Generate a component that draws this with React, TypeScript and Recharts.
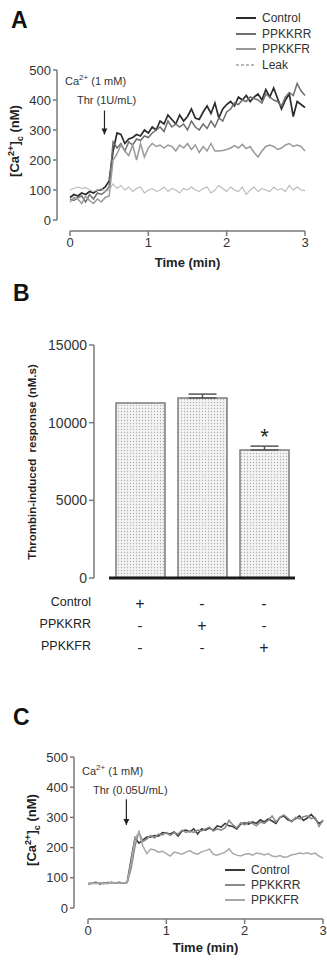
import {
  LineChart,
  Line,
  XAxis,
  YAxis,
  BarChart,
  Bar,
  ErrorBar,
  LabelList,
  Legend,
  ReferenceLine,
  ReferenceDot,
} from 'recharts'

const FONT = '"Liberation Sans", Arial, Helvetica, sans-serif'

// time points (min), shared by panels A and C
const TIME = [
  0, 0.05, 0.1, 0.15, 0.2, 0.25, 0.3, 0.35, 0.4, 0.45, 0.5,
  0.55, 0.6, 0.65, 0.7, 0.75, 0.8, 0.85, 0.9, 0.95, 1.0,
  1.05, 1.1, 1.15, 1.2, 1.25, 1.3, 1.35, 1.4, 1.45, 1.5,
  1.55, 1.6, 1.65, 1.7, 1.75, 1.8, 1.85, 1.9, 1.95, 2.0,
  2.05, 2.1, 2.15, 2.2, 2.25, 2.3, 2.35, 2.4, 2.45, 2.5,
  2.55, 2.6, 2.65, 2.7, 2.75, 2.8, 2.85, 2.9, 2.95, 3.0,
]

// panel A — Thr 1 U/mL
const A_CONTROL = [
  75, 85, 80, 90, 85, 95, 90, 100, 100, 110, 130,
  230, 290, 285, 255, 270, 275, 285, 280, 300, 290,
  310, 300, 330, 320, 350, 335, 320, 350, 330, 345,
  370, 340, 335, 360, 380, 355, 390, 340, 370, 385,
  395, 380, 410, 400, 415, 395, 410, 420, 400, 435,
  410, 440, 405, 370, 400, 420, 345, 395, 385, 375,
]
const A_PPKKRR = [
  70, 65, 75, 80, 60, 85, 70, 90, 85, 95, 110,
  260, 240, 255, 230, 260, 250, 270, 265, 280, 275,
  290, 300, 310, 295, 330, 310, 320, 310, 320, 300,
  330, 310, 300, 320, 305, 330, 310, 340, 330, 360,
  370, 390, 385, 400, 395, 410, 405, 400, 390, 420,
  410, 400, 395, 380, 410, 425, 415, 455, 430, 415,
]
const A_PPKKFR = [
  60, 75, 70, 55, 80, 65, 55, 70, 60, 75, 80,
  200, 220, 250, 230, 215, 250, 200, 255, 210, 240,
  255, 245, 250, 240, 250, 245, 230, 250, 240, 255,
  235, 250, 225, 245, 230, 255, 230, 230, 232, 235,
  240, 248, 240, 252, 238, 245, 225, 210, 230, 245,
  250, 245, 235, 240, 250, 255, 245, 250, 245, 230,
]
const A_LEAK = [
  100, 105, 110, 105, 108, 100, 95, 100, 105, 95, 100,
  120, 105, 115, 100, 110, 95, 105, 110, 90, 100,
  105, 95, 100, 110, 95, 105, 100, 90, 105, 100,
  110, 100, 95, 105, 110, 90, 100, 115, 105, 95,
  110, 100, 95, 110, 85, 100, 110, 95, 105, 100,
  95, 110, 100, 105, 95, 115, 100, 110, 100, 98,
]

// panel C — Thr 0.05 U/mL
const C_CONTROL = [
  80, 82, 85, 80, 83, 82, 85, 83, 84, 83, 85,
  160, 232, 215, 225, 235, 235, 240, 238, 250, 248,
  245, 252, 238, 255, 258, 252, 262, 245, 262, 258,
  265, 258, 272, 268, 280, 272, 270, 262, 278, 282,
  278, 285, 280, 292, 285, 295, 288, 280, 300, 305,
  292, 288, 296, 305, 290, 298, 310, 295, 280, 288,
]
const C_PPKKRR = [
  82, 80, 84, 82, 80, 85, 82, 84, 85, 82, 84,
  130, 205, 252, 220, 228, 240, 232, 245, 242, 250,
  240, 250, 245, 258, 250, 255, 250, 258, 255, 262,
  268, 255, 262, 258, 265, 290, 275, 265, 282, 275,
  285, 280, 272, 285, 280, 290, 305, 285, 300, 308,
  298, 285, 300, 295, 302, 305, 296, 300, 270, 292,
]
const C_PPKKFR = [
  80, 83, 80, 84, 82, 80, 84, 83, 82, 84, 84,
  150, 230, 250, 205, 180, 195, 192, 185, 188, 180,
  172, 185, 182, 178, 185, 190, 182, 178, 186, 190,
  195, 178, 175, 180, 185, 196, 180, 175, 172, 178,
  180, 175, 182, 180, 176, 180, 172, 170, 174, 168,
  170, 176, 178, 182, 180, 183, 178, 182, 172, 165,
]

const CA_TICKS = [0, 100, 200, 300, 400, 500]
const TIME_TICKS = [0, 1, 2, 3]

// panel B
const B_CATS = ['Control', 'PPKKRR', 'PPKKFR']
const B_MEAN = [11270, 11590, 8240]
const B_SEM = [0, 250, 250]
const B_MARK = ['', '', '*']
const B_TICKS = [0, 5000, 10000, 15000]
const B_ROW_LABELS = ['Control', 'PPKKRR', 'PPKKFR']
const B_SIGNS_CONTROL = ['+', '-', '-']
const B_SIGNS_PPKKRR = ['-', '+', '-']
const B_SIGNS_PPKKFR = ['-', '-', '+']

const dataA = TIME.map((t, i) => ({
  t,
  control: A_CONTROL[i],
  ppkkrr: A_PPKKRR[i],
  ppkkfr: A_PPKKFR[i],
  leak: A_LEAK[i],
}))
const dataC = TIME.map((t, i) => ({
  t,
  control: C_CONTROL[i],
  ppkkrr: C_PPKKRR[i],
  ppkkfr: C_PPKKFR[i],
}))
const dataB = B_CATS.map((name, i) => ({
  name,
  mean: B_MEAN[i],
  sem: B_SEM[i] ? [0, B_SEM[i]] : null,
  mark: B_MARK[i],
}))
const SIGN_ROWS = [B_SIGNS_CONTROL, B_SIGNS_PPKKRR, B_SIGNS_PPKKFR]

const SERIES_A = [
  { key: 'control', name: 'Control', color: '#2b2b2b', width: 1.7, dash: undefined },
  { key: 'ppkkrr', name: 'PPKKRR', color: '#6e6e6e', width: 1.5, dash: undefined },
  { key: 'ppkkfr', name: 'PPKKFR', color: '#9a9a9a', width: 1.5, dash: undefined },
  { key: 'leak', name: 'Leak', color: '#b8b8b8', width: 1.1, dash: '3 2' },
]
const SERIES_C = [
  { key: 'control', name: 'Control', color: '#3a3a3a', width: 1.6, dash: undefined },
  { key: 'ppkkrr', name: 'PPKKRR', color: '#8a8a8a', width: 1.5, dash: undefined },
  { key: 'ppkkfr', name: 'PPKKFR', color: '#a8a8a8', width: 1.5, dash: undefined },
]

const AXIS = '#7a7a7a'
const tickStyle = { fill: '#333', fontSize: 13 }

const SeriesLegend = ({ series, rowH }: { series: typeof SERIES_A; rowH: number }) => (
  <div style={{ fontFamily: FONT, fontSize: 12, color: '#333' }}>
    {series.map(s => (
      <div key={s.key} style={{ display: 'flex', alignItems: 'center', height: rowH }}>
        <svg width={20} height={6} style={{ marginRight: 6 }}>
          <line x1={0} y1={3} x2={20} y2={3} stroke={s.color} strokeWidth={2} strokeDasharray={s.dash} />
        </svg>
        <span>{s.name}</span>
      </div>
    ))}
  </div>
)

const ArrowHead = (props: any) => {
  const { cx, cy } = props
  return <path d={`M${cx - 3},${cy - 6} L${cx + 3},${cy - 6} L${cx},${cy} Z`} fill="#222" />
}

const SignTick = ({ x, y, payload }: any) => {
  const i = B_CATS.indexOf(payload.value)
  return (
    <g>
      {SIGN_ROWS.map((row, r) => (
        <text
          key={r}
          x={x}
          y={y + 25 + r * 22}
          textAnchor="middle"
          dominantBaseline="central"
          fontSize={r === 0 || row[i] === '+' ? 16 : 15}
          fill="#222"
        >
          {row[i]}
        </text>
      ))}
    </g>
  )
}

const abs = (left: number, top: number, extra: any = {}) => ({
  position: 'absolute' as const,
  left,
  top,
  ...extra,
})

const PanelLetter = ({ x, y, ch }: { x: number; y: number; ch: string }) => (
  <div style={abs(x, y, { fontSize: 23, fontWeight: 'bold', lineHeight: 1, color: '#111' })}>{ch}</div>
)

const VLabel = ({ cx, cy, children, size = 13 }: any) => (
  <div
    style={abs(cx, cy, {
      transform: 'translate(-50%, -50%) rotate(-90deg)',
      whiteSpace: 'nowrap',
      fontSize: size,
      fontWeight: 'bold',
      color: '#222',
      lineHeight: 1,
    })}
  >
    {children}
  </div>
)

const CaLabel = () => (
  <span>
    [Ca<sup style={{ fontSize: '0.7em' }}>2+</sup>]<sub style={{ fontSize: '0.7em' }}>c</sub> (nM)
  </span>
)

const Note = ({ x, y, children }: any) => (
  <div style={abs(x, y, { fontSize: 11, color: '#333', whiteSpace: 'nowrap', lineHeight: 1 })}>{children}</div>
)

function TraceChart({
  data,
  series,
  height,
  margin,
  yMainW,
  yGapW,
  xGapH,
  xMainH,
  arrowX,
  arrowTop,
  arrowBottom,
  legend,
}: any) {
  return (
    <LineChart width={327} height={height} data={data} margin={margin}>
      <YAxis yAxisId="gapY" type="number" domain={[0, 500]} width={yGapW} tick={false} axisLine={false} tickLine={false} />
      <YAxis
        yAxisId="mainY"
        type="number"
        domain={[0, 500]}
        ticks={CA_TICKS}
        width={yMainW}
        tick={tickStyle}
        tickSize={4}
        tickMargin={2}
        axisLine={{ stroke: AXIS, strokeWidth: 1.5 }}
        tickLine={{ stroke: AXIS, strokeWidth: 1.5 }}
      />
      <XAxis xAxisId="gapX" dataKey="t" type="number" domain={[0, 3]} height={xGapH} tick={false} axisLine={false} tickLine={false} />
      <XAxis
        xAxisId="mainX"
        dataKey="t"
        type="number"
        domain={[0, 3]}
        ticks={TIME_TICKS}
        height={xMainH}
        tick={tickStyle}
        tickSize={5}
        tickMargin={2}
        axisLine={{ stroke: AXIS, strokeWidth: 1.5 }}
        tickLine={{ stroke: AXIS, strokeWidth: 1.5 }}
        label={{ value: 'Time (min)', position: 'insideBottom', offset: 4, style: { fontSize: 13, fontWeight: 'bold', fill: '#222' } }}
      />
      {legend}
      {series.map((s: any) => (
        <Line
          key={s.key}
          xAxisId="mainX"
          yAxisId="mainY"
          type="linear"
          dataKey={s.key}
          name={s.name}
          stroke={s.color}
          strokeWidth={s.width}
          dot={false}
          isAnimationActive={false}
        />
      ))}
      <ReferenceLine
        xAxisId="mainX"
        yAxisId="mainY"
        segment={[{ x: arrowX, y: arrowTop }, { x: arrowX, y: arrowBottom }]}
        stroke="#222"
        strokeWidth={1.2}
        ifOverflow="visible"
      />
      <ReferenceDot xAxisId="mainX" yAxisId="mainY" x={arrowX} y={arrowBottom} shape={ArrowHead} ifOverflow="visible" />
    </LineChart>
  )
}

export default function App() {
  return (
    <div style={abs(0, 0, { width: 327, height: 960, background: '#fff', fontFamily: FONT, overflow: 'hidden' })}>
      {/* Panel A */}
      <PanelLetter x={11} y={9} ch="A" />
      <div style={abs(0, 0)}>
        <TraceChart
          data={dataA}
          series={SERIES_A}
          height={290}
          margin={{ top: 70, right: 22, bottom: 19, left: 0 }}
          yMainW={57}
          yGapW={13}
          xGapH={11}
          xMainH={40}
          arrowX={0.44}
          arrowTop={365}
          arrowBottom={285}
          legend={
            <Legend
              layout="horizontal"
              verticalAlign="middle"
              wrapperStyle={{ position: 'absolute', top: 10, left: 236, width: 90 }}
              content={() => <SeriesLegend series={SERIES_A} rowH={15.7} />}
            />
          }
        />
      </div>
      <VLabel cx={16} cy={141}>
        <CaLabel />
      </VLabel>
      <Note x={65} y={74}>
        Ca<sup style={{ fontSize: 8 }}>2+</sup> (1 mM)
      </Note>
      <Note x={77} y={95}>Thr (1U/mL)</Note>

      {/* Panel B */}
      <PanelLetter x={13} y={282} ch="B" />
      <div style={abs(0, 290)}>
        <BarChart width={327} height={370} data={dataB} margin={{ top: 55, right: 32, bottom: 0, left: 0 }} barSize={49}>
          <defs>
            <pattern id="stipple" width="3" height="3" patternUnits="userSpaceOnUse">
              <rect width="3" height="3" fill="#f3f3f3" />
              <circle cx="1.5" cy="1.5" r="0.65" fill="#b0b0b0" />
            </pattern>
          </defs>
          <YAxis yAxisId="gapY" type="number" domain={[0, 15000]} width={15} tick={false} axisLine={false} tickLine={false} />
          <YAxis
            yAxisId="mainY"
            type="number"
            domain={[0, 15000]}
            ticks={B_TICKS}
            width={94}
            tick={{ fill: '#333', fontSize: 14 }}
            tickSize={5}
            tickMargin={2}
            axisLine={{ stroke: AXIS, strokeWidth: 1.5 }}
            tickLine={{ stroke: AXIS, strokeWidth: 1.5 }}
          />
          <XAxis
            dataKey="name"
            height={82}
            tick={<SignTick />}
            tickSize={0}
            tickMargin={0}
            tickLine={false}
            axisLine={{ stroke: '#1a1a1a', strokeWidth: 3 }}
            interval={0}
          />
          <Bar yAxisId="mainY" dataKey="mean" fill="url(#stipple)" stroke="#7c7c7c" strokeWidth={1.5} isAnimationActive={false}>
            <ErrorBar dataKey="sem" direction="y" width={14} stroke="#555" strokeWidth={1.5} />
            <LabelList dataKey="mark" position="top" offset={6} style={{ fontSize: 22, fill: '#222' }} />
          </Bar>
        </BarChart>
      </div>
      <VLabel cx={33} cy={462} size={11.5}>
        Thrombin-induced&nbsp; response (nM.s)
      </VLabel>
      {B_ROW_LABELS.map((l, r) => (
        <div key={l} style={abs(0, 596 + r * 22, { width: 91, textAlign: 'right', fontSize: 12.5, color: '#222', lineHeight: 1 })}>
          {l}
        </div>
      ))}

      {/* Panel C */}
      <PanelLetter x={13} y={706} ch="C" />
      <div style={abs(0, 650)}>
        <TraceChart
          data={dataC}
          series={SERIES_C}
          height={310}
          margin={{ top: 107, right: 4, bottom: 4, left: 0 }}
          yMainW={74}
          yGapW={14}
          xGapH={11}
          xMainH={37}
          arrowX={0.49}
          arrowTop={360}
          arrowBottom={275}
          legend={
            <Legend
              layout="horizontal"
              verticalAlign="middle"
              wrapperStyle={{ position: 'absolute', top: 212, left: 225, width: 100 }}
              content={() => <SeriesLegend series={SERIES_C} rowH={15} />}
            />
          }
        />
      </div>
      <VLabel cx={33} cy={830}>
        <CaLabel />
      </VLabel>
      <Note x={82} y={764}>
        Ca<sup style={{ fontSize: 8 }}>2+</sup> (1 mM)
      </Note>
      <Note x={93} y={785}>Thr (0.05U/mL)</Note>
    </div>
  )
}
